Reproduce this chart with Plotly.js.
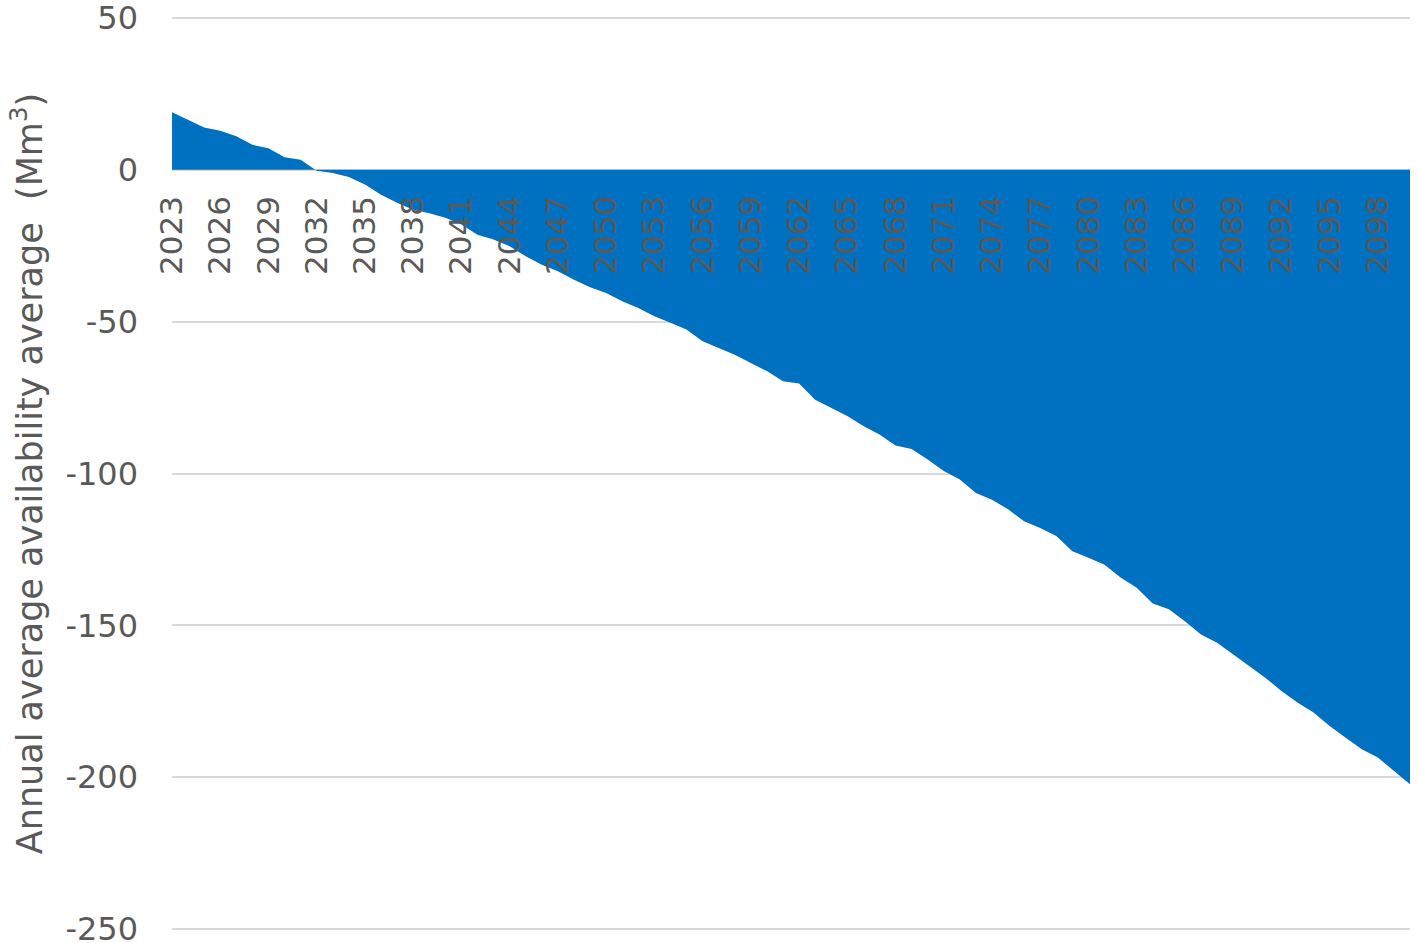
<!DOCTYPE html>
<html>
<head>
<meta charset="utf-8">
<script src="https://cdn.plot.ly/plotly-3.0.1.min.js"></script>
<style>html,body{margin:0;padding:0;background:#fff;}#chart{width:1418px;height:943px;}</style>
</head>
<body>
<div id="chart"></div>
<script>
const years = [];
for (let y = 2023; y <= 2100; y++) years.push(y);

const availability = [
  18.9, 16.4, 13.9, 12.8, 11.0, 8.2, 7.1, 4.1, 3.3, -0.3,
  -1.1, -2.4, -4.9, -8.2, -10.9, -13.2, -14.3, -15.8, -18.0, -21.4,
  -23.0, -25.2, -28.5, -31.3, -33.4, -36.2, -38.7, -40.6, -43.3, -45.5,
  -48.2, -50.4, -52.6, -56.5, -58.7, -60.9, -63.6, -66.3, -69.6, -70.4,
  -75.7, -78.4, -81.1, -84.4, -87.2, -90.8, -91.9, -95.4, -99.2, -102.0,
  -106.4, -108.6, -111.8, -115.7, -117.9, -120.6, -125.6, -127.7, -130.0, -134.2,
  -137.6, -142.8, -144.7, -148.6, -153.0, -155.7, -159.5, -163.4, -167.2, -171.6,
  -175.4, -178.7, -183.1, -187.0, -190.8, -193.5, -197.9, -202.3
];

const tickYears = [];
for (let y = 2023; y <= 2098; y += 3) tickYears.push(y);
const tickLabels = tickYears.map(String);

const yTicks = [50, 0, -50, -100, -150, -200, -250];

const fontFam = '"DejaVu Sans", "Liberation Sans", sans-serif';

const trace = {
  x: years,
  y: availability,
  type: 'scatter',
  mode: 'lines',
  fill: 'tozeroy',
  fillcolor: '#0070C0',
  line: {width: 0, color: '#0070C0'},
  hoverinfo: 'x+y'
};

const layout = {
  width: 1418,
  height: 943,
  margin: {l: 172, r: 8, t: 16, b: 12},
  paper_bgcolor: '#ffffff',
  plot_bgcolor: '#ffffff',
  showlegend: false,
  font: {family: fontFam, color: '#595959', size: 31},
  xaxis: {
    type: 'linear',
    range: [2023, 2100],
    tickmode: 'array',
    tickvals: tickYears,
    ticktext: tickLabels,
    tickangle: -90,
    tickfont: {family: fontFam, size: 31, color: '#595959'},
    showgrid: false,
    zeroline: false,
    showline: false,
    ticks: '',
    anchor: 'free',
    position: 0.8319,
    ticklabelstandoff: 19,
    ticklabeloverflow: 'allow',
    automargin: false
  },
  yaxis: {
    range: [-250.6, 50.6],
    tickmode: 'array',
    tickvals: yTicks,
    ticktext: yTicks.map(String),
    tickfont: {family: fontFam, size: 32, color: '#595959'},
    showgrid: true,
    gridcolor: '#d9d9d9',
    gridwidth: 2,
    zeroline: true,
    zerolinecolor: '#d9d9d9',
    zerolinewidth: 2,
    showline: false,
    ticks: '',
    ticklabelstandoff: 33,
    ticklabeloverflow: 'allow',
    automargin: false,
    title: {
      text: 'Annual average availability average  (Mm<sup>3</sup>)',
      font: {family: fontFam, size: 35, color: '#595959'},
      standoff: 12
    }
  }
};

Plotly.newPlot('chart', [trace], layout, {displayModeBar: false, staticPlot: true});
</script>
</body>
</html>
